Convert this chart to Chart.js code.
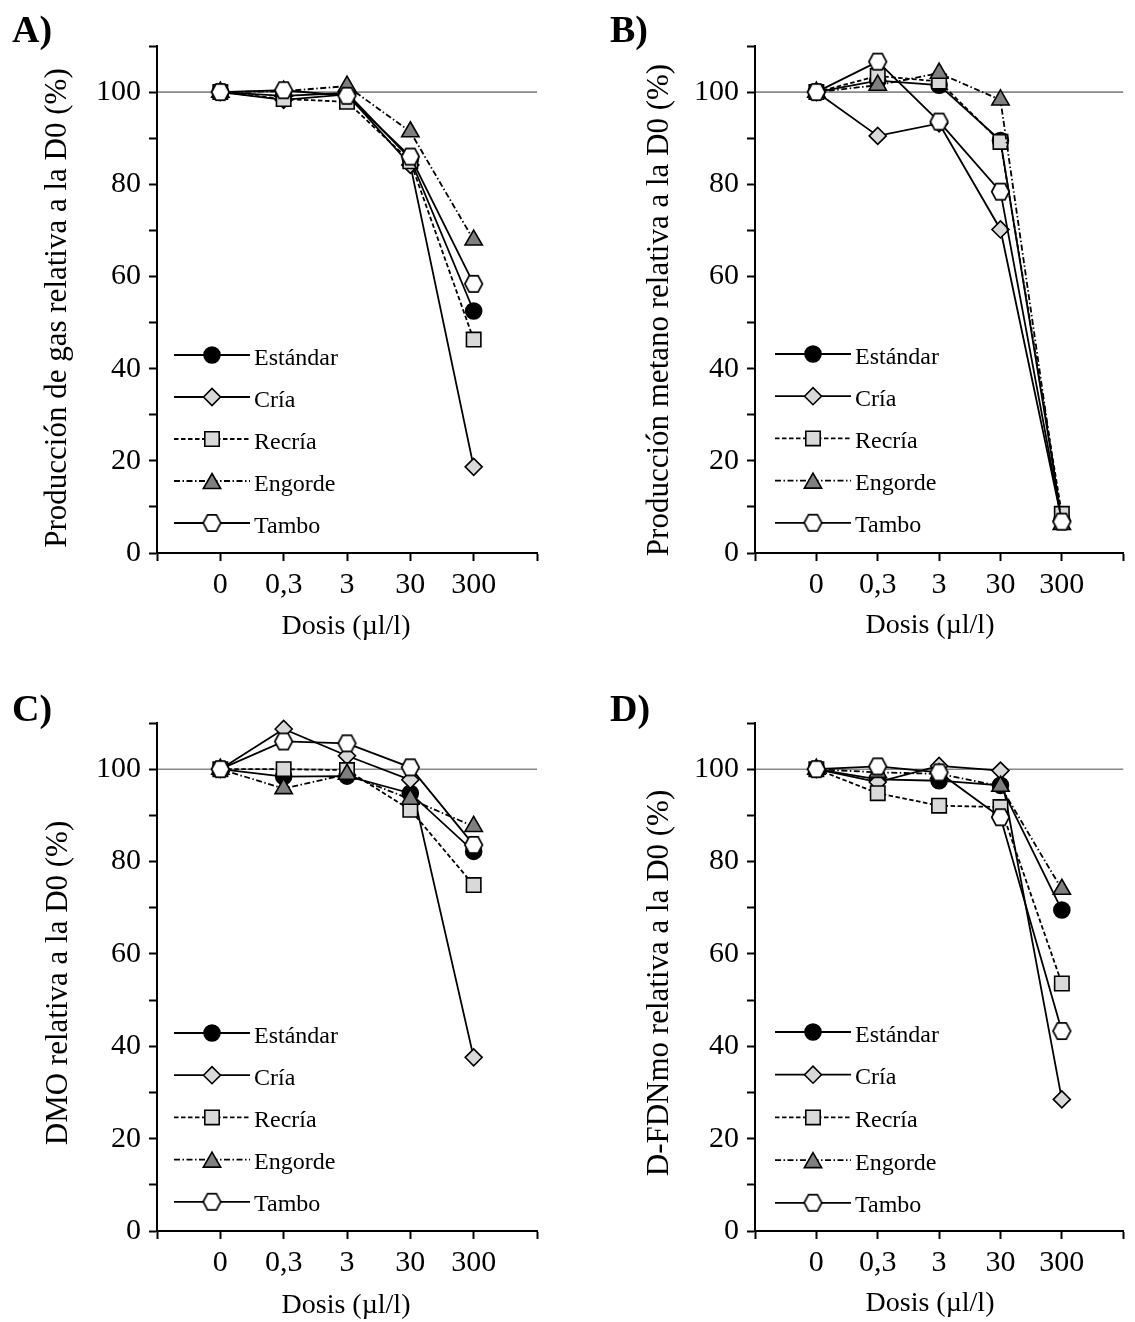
<!DOCTYPE html>
<html>
<head>
<meta charset="utf-8">
<title>Dosis (µl/l) – respuesta relativa a D0</title>
<script src="https://cdn.jsdelivr.net/npm/chart.js@4.4.1/dist/chart.umd.min.js"></script>
<style>
  html, body { margin: 0; padding: 0; background: #ffffff; }
  #wrap { position: relative; width: 1135px; height: 1322px; overflow: hidden; }
  #wrap canvas { position: absolute; left: 0; top: 0; }
</style>
</head>
<body>
<div id="wrap">
  <canvas id="chartA" width="1135" height="1322"></canvas>
  <canvas id="chartB" width="1135" height="1322"></canvas>
  <canvas id="chartC" width="1135" height="1322"></canvas>
  <canvas id="chartD" width="1135" height="1322"></canvas>
</div>
<script>
// ---- categories and tick labels ----
const doseLabels = ['0', '0,3', '3', '30', '300'];
const seriesNames = ['Estándar', 'Cría', 'Recría', 'Engorde', 'Tambo'];
const yLabelValues = [0, 20, 40, 60, 80, 100];
const referenceLevel = 100;
const xTitle = 'Dosis (µl/l)';

// ---- A) gas production relative to D0 (%) ----
const gasEstandar = [100, 99.2, 99.8, 85.5, 52.5];
const gasCria     = [100, 98.3, 99.5, 84.2, 18.7];
const gasRecria   = [100, 98.5, 97.9, 85.0, 46.3];
const gasEngorde  = [100, 100.2, 101.3, 91.4, 67.9];
const gasTambo    = [100, 100.4, 99.2, 86.0, 58.4];

// ---- B) methane production relative to D0 (%) ----
const ch4Estandar = [100, 102.5, 101.5, 89.5, 7.2];
const ch4Cria     = [100, 90.5, 93.2, 70.2, 7.0];
const ch4Recria   = [100, 103.5, 102.3, 89.2, 8.5];
const ch4Engorde  = [100, 101.5, 104.1, 98.3, 6.2];
const ch4Tambo    = [100, 106.6, 93.6, 78.4, 6.8];

// ---- C) DMO relative to D0 (%) ----
const dmoEstandar = [100, 98.4, 98.5, 94.8, 82.2];
const dmoCria     = [100, 108.7, 102.9, 97.7, 37.6];
const dmoRecria   = [100, 100.0, 99.8, 91.2, 74.9];
const dmoEngorde  = [100, 95.8, 98.9, 93.5, 87.6];
const dmoTambo    = [100, 106.0, 105.6, 100.4, 83.6];

// ---- D) D-FDNmo relative to D0 (%) ----
const fdnEstandar = [100, 97.8, 97.5, 96.5, 69.5];
const fdnCria     = [100, 97.2, 100.7, 99.7, 28.5];
const fdnRecria   = [100, 94.8, 92.1, 91.8, 53.6];
const fdnEngorde  = [100, 99.3, 99.0, 96.3, 74.0];
const fdnTambo    = [100, 100.6, 99.3, 89.6, 43.3];

const FONT = "'Liberation Serif', 'Times New Roman', serif";
Chart.defaults.font.family = FONT;
Chart.defaults.color = '#000';

// flat-topped hexagon marker used for "Tambo"
function makeHexagon(rx, ry, lw) {
  const c = document.createElement('canvas');
  const w = Math.ceil(2 * rx + 2 * lw), h = Math.ceil(2 * ry + 2 * lw);
  c.width = w; c.height = h;
  const g = c.getContext('2d');
  const cx = w / 2, cy = h / 2;
  g.beginPath();
  g.moveTo(cx - rx, cy);
  g.lineTo(cx - rx / 2, cy - ry);
  g.lineTo(cx + rx / 2, cy - ry);
  g.lineTo(cx + rx, cy);
  g.lineTo(cx + rx / 2, cy + ry);
  g.lineTo(cx - rx / 2, cy + ry);
  g.closePath();
  g.fillStyle = '#ffffff';
  g.fill();
  g.lineWidth = lw;
  g.strokeStyle = '#000000';
  g.stroke();
  return c;
}
const hexagon = makeHexagon(8.8, 8.2, 1.7);

// visual style per series
const seriesStyle = [
  { pointStyle: 'circle',   radius: 8,    fill: '#000000', dash: [],                 order: 5 },
  { pointStyle: 'rectRot',  radius: 8.5,  fill: '#d9d9d9', dash: [],                 order: 4 },
  { pointStyle: 'rect',     radius: 10.2, fill: '#d9d9d9', dash: [4.5, 2.5],         order: 3 },
  { pointStyle: 'triangle', radius: 10,   fill: '#7f7f7f', dash: [6, 2.5, 1.5, 2.5], order: 2 },
  { pointStyle: hexagon,    radius: 9,    fill: '#ffffff', dash: [],                 order: 1 }
];

const LINE_W = 1.8;

function buildDatasets(valueLists) {
  return valueLists.map((vals, s) => {
    const st = seriesStyle[s];
    return {
      label: seriesNames[s],
      data: vals.map((v, i) => ({ x: i, y: v })),
      borderColor: '#000000',
      borderWidth: LINE_W,
      borderDash: st.dash,
      backgroundColor: st.fill,
      pointStyle: st.pointStyle,
      pointRadius: st.radius,
      pointHoverRadius: st.radius,
      pointBackgroundColor: st.fill,
      pointBorderColor: '#000000',
      pointBorderWidth: 1.6,
      tension: 0,
      fill: false,
      clip: false,
      order: st.order
    };
  });
}

// reference line at 100 %, panel letter, axis titles and legend
const panelDecor = {
  id: 'panelDecor',
  beforeDatasetsDraw(chart) {
    const { ctx, chartArea: a, scales: { y } } = chart;
    const py = y.getPixelForValue(referenceLevel);
    ctx.save();
    ctx.strokeStyle = '#888888';
    ctx.lineWidth = 1.6;
    ctx.beginPath();
    ctx.moveTo(a.left + 1, py);
    ctx.lineTo(a.right, py);
    ctx.stroke();
    ctx.restore();
  },
  afterDraw(chart, args, o) {
    const ctx = chart.ctx;
    ctx.save();
    ctx.fillStyle = '#000';
    ctx.textBaseline = 'alphabetic';

    ctx.font = 'bold 38px ' + FONT;
    ctx.textAlign = 'left';
    ctx.fillText(o.letter, o.letterX, o.letterY);

    ctx.font = '28px ' + FONT;
    ctx.textAlign = 'center';
    ctx.fillText(xTitle, o.xTitleX, o.xTitleY);

    ctx.save();
    ctx.translate(o.yTitleX, o.yTitleY);
    ctx.rotate(-Math.PI / 2);
    ctx.font = '31px ' + FONT;
    ctx.textAlign = 'center';
    ctx.fillText(o.yTitle, 0, 0);
    ctx.restore();

    // legend: line sample, marker, label
    chart.data.datasets.forEach((ds, i) => {
      const yRow = o.legendY + i * o.legendStep;
      ctx.save();
      ctx.strokeStyle = '#000';
      ctx.lineWidth = LINE_W;
      ctx.setLineDash(ds.borderDash || []);
      ctx.beginPath();
      ctx.moveTo(o.legendX1, yRow);
      ctx.lineTo(o.legendX2, yRow);
      ctx.stroke();
      ctx.setLineDash([]);
      ctx.fillStyle = ds.pointBackgroundColor;
      ctx.strokeStyle = ds.pointBorderColor;
      ctx.lineWidth = ds.pointBorderWidth;
      const yMark = ds.pointStyle === 'triangle' ? yRow + 2.5 : yRow;
      Chart.helpers.drawPoint(ctx, {
        pointStyle: ds.pointStyle,
        radius: ds.pointRadius,
        rotation: 0,
        borderWidth: ds.pointBorderWidth
      }, (o.legendX1 + o.legendX2) / 2, yMark);
      ctx.restore();
      ctx.save();
      ctx.fillStyle = '#000';
      ctx.font = '24px ' + FONT;
      ctx.textAlign = 'left';
      ctx.textBaseline = 'alphabetic';
      ctx.fillText(ds.label, o.legendTextX, yRow + 9.5);
      ctx.restore();
    });
    ctx.restore();
  }
};

const PAGE_W = 1135, PAGE_H = 1322, Y_AXIS_W = 100, X_AXIS_H = 60;

function makePanel(canvasId, valueLists, area, decor) {
  return new Chart(document.getElementById(canvasId), {
    type: 'line',
    data: { datasets: buildDatasets(valueLists) },
    plugins: [panelDecor],
    options: {
      responsive: false,
      animation: false,
      devicePixelRatio: 1,
      events: [],
      layout: {
        padding: {
          left: area.left - Y_AXIS_W,
          right: PAGE_W - area.right,
          top: area.top,
          bottom: PAGE_H - area.bottom - X_AXIS_H
        }
      },
      scales: {
        x: {
          type: 'linear',
          min: -1,
          max: 5,
          afterFit: (s) => { s.height = X_AXIS_H; },
          border: { display: true, color: '#000', width: 2 },
          grid: { drawOnChartArea: false, drawTicks: true, tickLength: 8, tickColor: '#000', tickWidth: 2 },
          ticks: {
            stepSize: 1,
            autoSkip: false,
            maxRotation: 0,
            padding: 6,
            font: { size: 30, family: FONT },
            color: '#000',
            callback: (v) => (doseLabels[v] !== undefined ? doseLabels[v] : '')
          }
        },
        y: {
          type: 'linear',
          min: 0,
          max: 110,
          afterFit: (s) => { s.width = Y_AXIS_W; },
          border: { display: true, color: '#000', width: 2 },
          grid: { drawOnChartArea: false, drawTicks: true, tickLength: 8, tickColor: '#000', tickWidth: 2 },
          ticks: {
            stepSize: 10,
            autoSkip: false,
            padding: 8,
            font: { size: 30, family: FONT },
            color: '#000',
            callback: (v) => (yLabelValues.includes(v) ? String(v) : '')
          }
        }
      },
      plugins: {
        legend: { display: false },
        tooltip: { enabled: false },
        title: { display: false },
        panelDecor: decor
      }
    }
  });
}

makePanel('chartA',
  [gasEstandar, gasCria, gasRecria, gasEngorde, gasTambo],
  { left: 157, right: 537, top: 46, bottom: 553 },
  { letter: 'A)', letterX: 12, letterY: 42,
    yTitle: 'Producción de gas relativa a la D0 (%)', yTitleX: 66, yTitleY: 308,
    xTitleX: 346, xTitleY: 634,
    legendX1: 174, legendX2: 250, legendTextX: 254, legendY: 355, legendStep: 42 });

makePanel('chartB',
  [ch4Estandar, ch4Cria, ch4Recria, ch4Engorde, ch4Tambo],
  { left: 755, right: 1134, top: 46, bottom: 553 },
  { letter: 'B)', letterX: 610, letterY: 42,
    yTitle: 'Producción metano relativa a la D0 (%)', yTitleX: 668, yTitleY: 310,
    xTitleX: 930, xTitleY: 633,
    legendX1: 775, legendX2: 851, legendTextX: 855, legendY: 354, legendStep: 42.2 });

makePanel('chartC',
  [dmoEstandar, dmoCria, dmoRecria, dmoEngorde, dmoTambo],
  { left: 157, right: 537, top: 723, bottom: 1231 },
  { letter: 'C)', letterX: 12, letterY: 721,
    yTitle: 'DMO relativa a la D0 (%)', yTitleX: 67, yTitleY: 983,
    xTitleX: 346, xTitleY: 1313,
    legendX1: 174, legendX2: 250, legendTextX: 254, legendY: 1033, legendStep: 42.2 });

makePanel('chartD',
  [fdnEstandar, fdnCria, fdnRecria, fdnEngorde, fdnTambo],
  { left: 755, right: 1134, top: 723, bottom: 1231 },
  { letter: 'D)', letterX: 610, letterY: 721,
    yTitle: 'D-FDNmo relativa a la D0 (%)', yTitleX: 668, yTitleY: 983,
    xTitleX: 930, xTitleY: 1311,
    legendX1: 775, legendX2: 851, legendTextX: 855, legendY: 1032, legendStep: 42.7 });
</script>
</body>
</html>
